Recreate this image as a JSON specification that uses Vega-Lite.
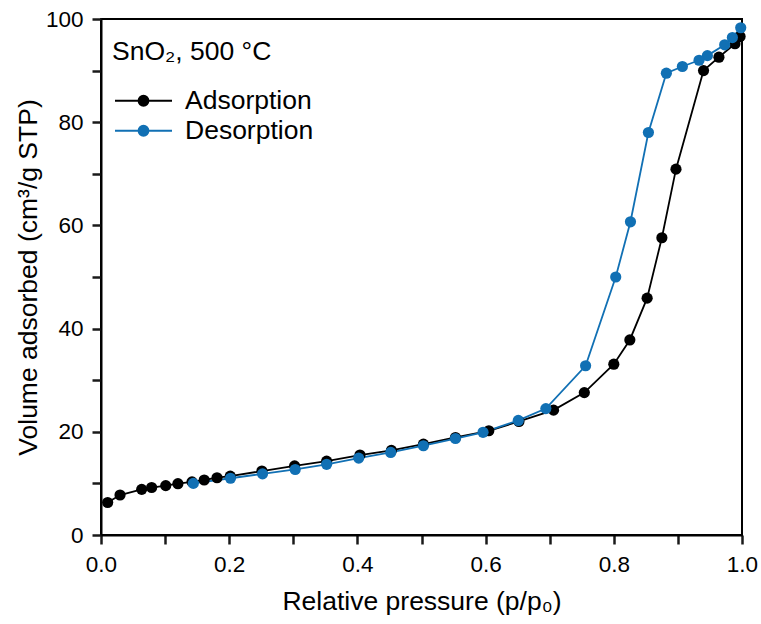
{
  "$schema": "https://vega.github.io/schema/vega-lite/v6.json",
  "width": 641,
  "height": 516,
  "autosize": {"type": "none"},
  "padding": {"left": 101, "top": 19, "right": 19, "bottom": 89},
  "background": "white",
  "config": {
    "view": {"stroke": "black", "strokeWidth": 2},
    "font": "Liberation Sans",
    "axis": {
      "grid": false,
      "domainColor": "black",
      "domainWidth": 2,
      "tickColor": "#1a1a1a",
      "tickWidth": 2.5,
      "tickSize": 9,
      "labelFlush": false,
      "labelColor": "black",
      "labelFont": "Liberation Sans",
      "labelFontSize": 22.5,
      "titleFont": "Liberation Sans",
      "titleFontSize": 26.5,
      "titleFontWeight": "normal",
      "titleColor": "black"
    }
  },
  "data": {
    "values": [
      {"p": 0.0104, "v": 6.3, "branch": "Adsorption"},
      {"p": 0.0297, "v": 7.75, "branch": "Adsorption"},
      {"p": 0.0635, "v": 8.85, "branch": "Adsorption"},
      {"p": 0.079, "v": 9.2, "branch": "Adsorption"},
      {"p": 0.101, "v": 9.56, "branch": "Adsorption"},
      {"p": 0.12, "v": 9.94, "branch": "Adsorption"},
      {"p": 0.142, "v": 10.3, "branch": "Adsorption"},
      {"p": 0.161, "v": 10.66, "branch": "Adsorption"},
      {"p": 0.181, "v": 11.1, "branch": "Adsorption"},
      {"p": 0.2016, "v": 11.4, "branch": "Adsorption"},
      {"p": 0.251, "v": 12.4, "branch": "Adsorption"},
      {"p": 0.302, "v": 13.4, "branch": "Adsorption"},
      {"p": 0.352, "v": 14.3, "branch": "Adsorption"},
      {"p": 0.404, "v": 15.5, "branch": "Adsorption"},
      {"p": 0.453, "v": 16.4, "branch": "Adsorption"},
      {"p": 0.503, "v": 17.6, "branch": "Adsorption"},
      {"p": 0.553, "v": 18.9, "branch": "Adsorption"},
      {"p": 0.605, "v": 20.2, "branch": "Adsorption"},
      {"p": 0.652, "v": 22.0, "branch": "Adsorption"},
      {"p": 0.706, "v": 24.2, "branch": "Adsorption"},
      {"p": 0.754, "v": 27.6, "branch": "Adsorption"},
      {"p": 0.8, "v": 33.1, "branch": "Adsorption"},
      {"p": 0.825, "v": 37.8, "branch": "Adsorption"},
      {"p": 0.852, "v": 45.9, "branch": "Adsorption"},
      {"p": 0.875, "v": 57.6, "branch": "Adsorption"},
      {"p": 0.897, "v": 70.9, "branch": "Adsorption"},
      {"p": 0.94, "v": 90.0, "branch": "Adsorption"},
      {"p": 0.964, "v": 92.6, "branch": "Adsorption"},
      {"p": 0.989, "v": 95.2, "branch": "Adsorption"},
      {"p": 0.997, "v": 96.6, "branch": "Adsorption"},
      {"p": 0.998, "v": 98.3, "branch": "Desorption"},
      {"p": 0.985, "v": 96.4, "branch": "Desorption"},
      {"p": 0.973, "v": 95.0, "branch": "Desorption"},
      {"p": 0.946, "v": 92.9, "branch": "Desorption"},
      {"p": 0.933, "v": 92.0, "branch": "Desorption"},
      {"p": 0.907, "v": 90.8, "branch": "Desorption"},
      {"p": 0.882, "v": 89.5, "branch": "Desorption"},
      {"p": 0.854, "v": 78.0, "branch": "Desorption"},
      {"p": 0.826, "v": 60.7, "branch": "Desorption"},
      {"p": 0.803, "v": 50.0, "branch": "Desorption"},
      {"p": 0.756, "v": 32.8, "branch": "Desorption"},
      {"p": 0.694, "v": 24.5, "branch": "Desorption"},
      {"p": 0.651, "v": 22.2, "branch": "Desorption"},
      {"p": 0.596, "v": 19.9, "branch": "Desorption"},
      {"p": 0.553, "v": 18.7, "branch": "Desorption"},
      {"p": 0.503, "v": 17.3, "branch": "Desorption"},
      {"p": 0.452, "v": 16.0, "branch": "Desorption"},
      {"p": 0.402, "v": 14.9, "branch": "Desorption"},
      {"p": 0.352, "v": 13.7, "branch": "Desorption"},
      {"p": 0.303, "v": 12.7, "branch": "Desorption"},
      {"p": 0.252, "v": 11.85, "branch": "Desorption"},
      {"p": 0.202, "v": 11.0, "branch": "Desorption"},
      {"p": 0.144, "v": 10.0, "branch": "Desorption"}
    ]
  },
  "encoding": {
    "x": {
      "field": "p",
      "type": "quantitative",
      "scale": {"domain": [0, 1], "nice": false, "zero": false},
      "axis": {
        "title": "Relative pressure (p/p₀)",
        "values": [0, 0.1, 0.2, 0.3, 0.4, 0.5, 0.6, 0.7, 0.8, 0.9, 1.0],
        "format": ".1f",
        "labelExpr": "round(datum.value*10) % 2 === 0 ? datum.label : ''",
        "labelPadding": 9,
        "titlePadding": 13
      }
    },
    "y": {
      "field": "v",
      "type": "quantitative",
      "scale": {"domain": [0, 100], "nice": false},
      "axis": {
        "title": "Volume adsorbed (cm³/g STP)",
        "values": [0, 10, 20, 30, 40, 50, 60, 70, 80, 90, 100],
        "format": "d",
        "labelExpr": "datum.value % 20 === 0 ? datum.label : ''",
        "labelPadding": 9,
        "titlePadding": 3
      }
    },
    "color": {
      "field": "branch",
      "type": "nominal",
      "scale": {"domain": ["Adsorption", "Desorption"], "range": ["black", "#1170b4"]},
      "legend": {
        "title": "SnO₂, 500 °C",
        "orient": "none",
        "legendX": 11,
        "legendY": 20,
        "padding": 0,
        "titleFontSize": 26.5,
        "titleFontWeight": "normal",
        "titleColor": "black",
        "titleFont": "Liberation Sans",
        "titlePadding": 22,
        "labelFontSize": 26.5,
        "labelColor": "black",
        "labelFont": "Liberation Sans",
        "symbolType": "M-5.7,0H5.7M-1,0A1,1,0,1,1,1,0A1,1,0,1,1,-1,0Z",
        "symbolSize": 100,
        "symbolOffset": 18.25,
        "labelOffset": 28.25,
        "symbolStrokeWidth": 1.8,
        "rowPadding": 3,
        "encode": {
          "symbols": {
            "update": {
              "fill": {"scale": "color", "field": "value"},
              "stroke": {"scale": "color", "field": "value"},
              "strokeWidth": {"value": 1.8},
              "opacity": {"value": 1}
            }
          }
        }
      }
    }
  },
  "layer": [
    {"mark": {"type": "line", "strokeWidth": 1.8}},
    {"mark": {"type": "point", "filled": true, "size": 125, "opacity": 1, "shape": "circle"}}
  ]
}
